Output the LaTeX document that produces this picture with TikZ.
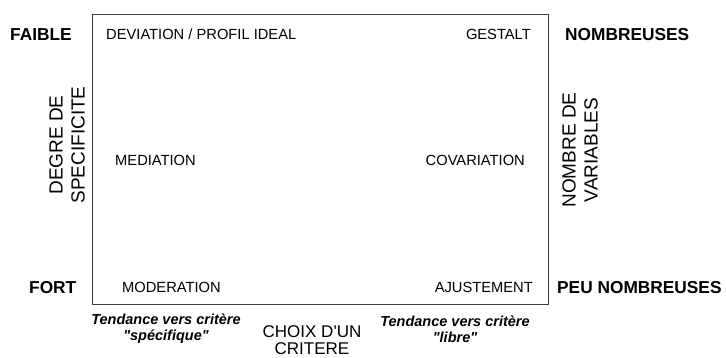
\documentclass[tikz,border=0pt]{standalone}
\usepackage{fontspec}
\setmainfont{Liberation Sans}
\newfontfamily\arial{Liberation Sans}

\begin{document}
\begin{tikzpicture}[x=1pt,y=-1pt]

\tikzstyle{cell}=[inner sep=0pt,font=\arial\fontsize{14.7}{16}\selectfont,text height=10.5pt,text depth=0pt]
\tikzstyle{pole}=[cell,font=\arial\fontsize{17.3}{19}\selectfont\bfseries,text height=12.4pt]
\tikzstyle{axis}=[inner sep=0pt,align=center,font=\arial\fontsize{19}{22}\selectfont]
\tikzstyle{trend}=[inner sep=0pt,align=center,font=\arial\fontsize{14.5}{16}\selectfont\bfseries\itshape]

\useasboundingbox (0,0) rectangle (726,358);

%Frame
\node[draw=black!75,line width=0.9pt,minimum width=456pt,minimum height=290pt,inner sep=0pt] (frame) at (320,159) {};

%Corners and sides of the frame
\node[cell,anchor=west] (deviation) at (106,34) {DEVIATION / PROFIL IDEAL};
\node[cell,anchor=east] (gestalt) at (531,34) {GESTALT};
\node[cell,anchor=west] (mediation) at (115,160) {MEDIATION};
\node[cell,anchor=east] (covariation) at (525,160) {COVARIATION};
\node[cell,anchor=west] (moderation) at (122,287) {MODERATION};
\node[cell,anchor=east] (ajustement) at (533,287) {AJUSTEMENT};

%Poles
\node[pole,anchor=west] (faible) at (10,34) {FAIBLE};
\node[pole,anchor=west] (fort) at (29,287) {FORT};
\node[pole,anchor=west] (nombreuses) at (565,34) {NOMBREUSES};
\node[pole,anchor=west] (peuNombreuses) at (557,287) {PEU NOMBREUSES};

%Axes
\node[axis,rotate=90] (specificite) at (67,145) {DEGRE DE\\SPECIFICITE};
\node[axis,rotate=90] (variables) at (580,150) {NOMBRE DE\\VARIABLES};
\node[axis,font=\arial\fontsize{17}{17}\selectfont] (critere) at (312,340) {CHOIX D'UN\\CRITERE};

\node[trend] (specifique) at (166,329) {Tendance vers critère\\"spécifique"};
\node[trend] (libre) at (455,329) {Tendance vers critère\\"libre"};

\end{tikzpicture}
\end{document}
